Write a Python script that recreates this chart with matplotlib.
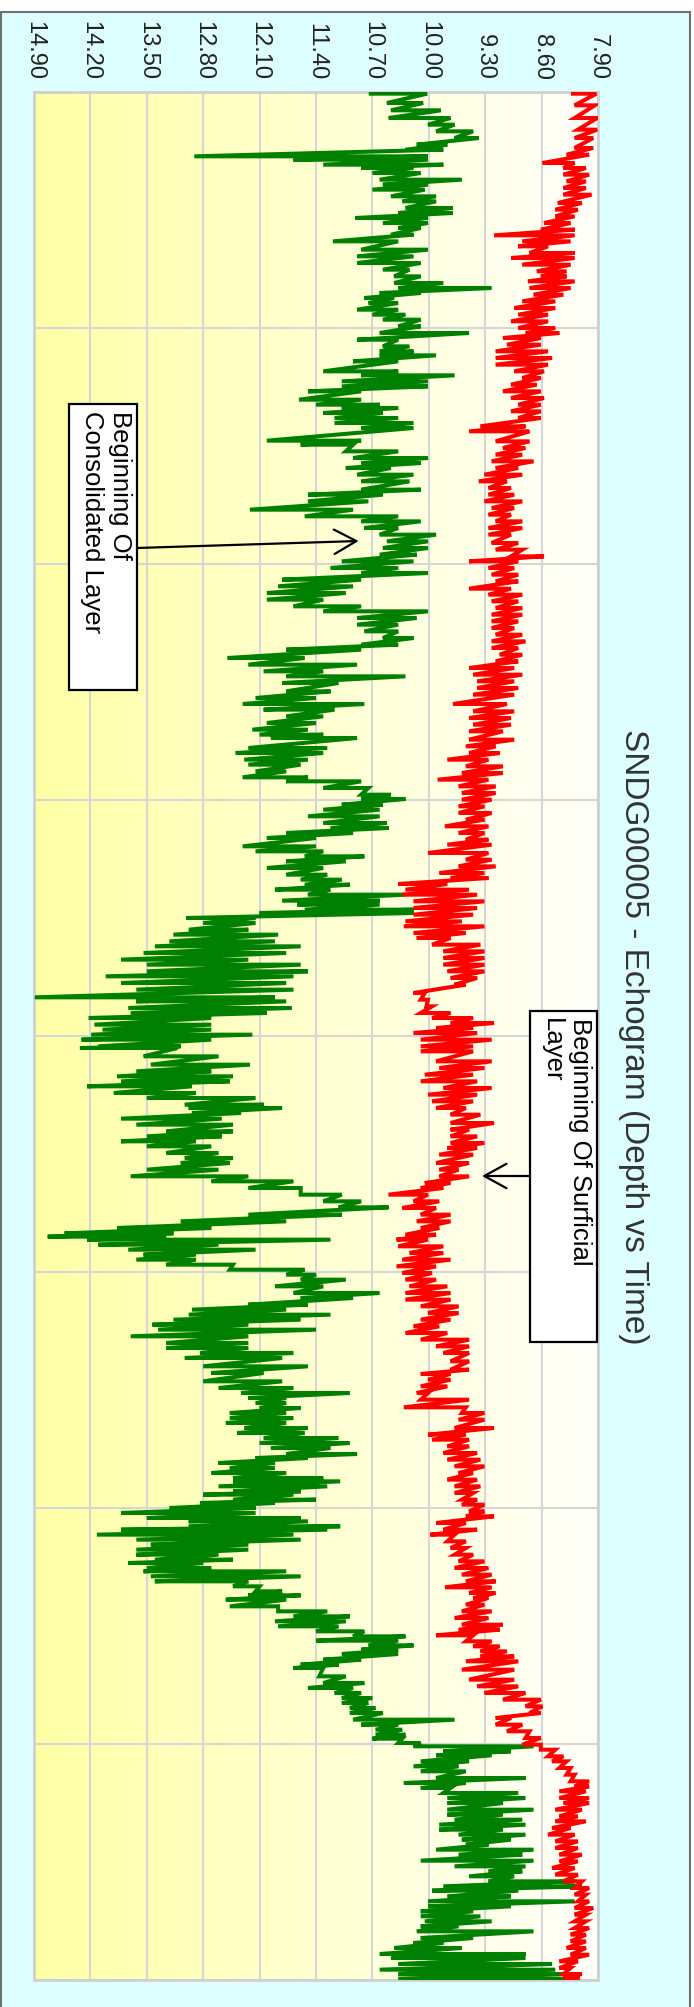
import numpy as np
import matplotlib
matplotlib.use("Agg")
import matplotlib.pyplot as plt
from matplotlib.patches import Rectangle
from matplotlib.colors import LinearSegmentedColormap

plt.rcParams['font.family'] = ['Liberation Sans', 'DejaVu Sans']

TITLE = "SNDG00005 - Echogram (Depth vs Time)"
depth_ticks = [14.90, 14.20, 13.50, 12.80, 12.10, 11.40, 10.70, 10.00, 9.30, 8.60, 7.90]
ping_max = 5664
ping_grid = 708

# Consolidated layer (green): ping, deepest and shallowest depth reached in each ping window
green_ping = [5, 33, 55,
    78, 98, 118, 138, 158, 173, 193, 203, 218, 228, 243, 263, 278, 293, 313, 328, 348, 363, 378, 393, 408, 428,
    448, 473, 493, 513, 533, 553, 573, 588, 603, 618, 633, 653, 668, 683, 703, 723, 743, 763, 778, 790, 808,
    838, 850, 868, 883, 898, 923, 938, 948, 963, 978, 993,
    1008, 1046, 1058, 1078, 1098, 1113, 1128, 1148, 1168, 1193, 1208, 1228, 1253, 1273, 1288, 1308, 1328,
    1348, 1368, 1388, 1408, 1428, 1443, 1463, 1483, 1503, 1523, 1543, 1558, 1578, 1598, 1618, 1638, 1658,
    1673, 1698, 1718, 1738, 1753, 1773, 1798, 1818, 1836, 1853, 1873, 1893, 1913, 1928,
    1938, 1968, 1983, 2003, 2018, 2038, 2056, 2068, 2088, 2108, 2121, 2138, 2153, 2173, 2193, 2208, 2223,
    2238, 2263, 2278, 2293, 2308, 2328, 2348, 2363, 2378, 2393, 2408, 2426, 2438, 2453, 2463, 2478, 2493,
    2513, 2528, 2548, 2563, 2583, 2603, 2618, 2638, 2653, 2673, 2693, 2716, 2728, 2748, 2763, 2778, 2798,
    2813, 2828, 2843, 2863,
    2868, 2893, 2918, 2938, 2953, 2968, 2983, 3003, 3018, 3038, 3048, 3063, 3080, 3098, 3118, 3133, 3148,
    3163, 3183, 3198, 3213, 3233, 3253, 3268, 3288, 3308, 3328, 3346, 3368, 3388, 3408, 3424, 3434, 3443,
    3458, 3473, 3488, 3503, 3518, 3533, 3548, 3563, 3583, 3603, 3618, 3638, 3653, 3668, 3683, 3698, 3713,
    3733, 3753, 3768, 3783,
    3798, 3823, 3843, 3868, 3888, 3903, 3918, 3933, 3948, 3963, 3978, 3993, 4008, 4023, 4038, 4053, 4068,
    4086, 4098, 4113, 4128, 4143, 4158, 4168, 4183, 4198, 4208, 4223, 4233, 4248, 4263, 4278, 4288, 4303,
    4313, 4328, 4343, 4358, 4373, 4388, 4403, 4413, 4428, 4438, 4453, 4468, 4483, 4498, 4510, 4523, 4543,
    4558, 4573, 4588, 4603, 4618, 4633, 4646, 4660, 4673, 4686, 4703, 4718,
    4728, 4753, 4773, 4788, 4803, 4818, 4833, 4848, 4863, 4883, 4898, 4913, 4928, 4940, 4953, 4963, 4978,
    4990, 5008, 5023, 5038, 5058, 5073, 5088, 5103, 5118, 5133, 5153, 5168, 5183, 5198, 5213, 5228, 5243,
    5258, 5273, 5288, 5306, 5323, 5338, 5353, 5368, 5383, 5396, 5413, 5428, 5443, 5458, 5473, 5488, 5503,
    5518, 5538, 5553, 5568, 5586, 5598, 5616, 5633, 5646, 5660]
green_deep = [10.72, 10.52, 10.47,
    10.50, 10.01, 9.91, 9.68, 10.15, 10.29, 12.91, 11.68, 11.31, 10.84, 10.70, 10.61, 10.57, 10.70, 10.47, 10.33, 10.29, 10.38, 10.91, 10.57, 10.38, 10.47,
    11.19, 10.84, 10.89, 10.89, 10.57, 10.43, 10.43, 10.38, 10.61, 10.80, 10.75, 10.89, 10.70, 10.57, 10.38, 10.61, 10.89, 10.57, 10.61, 10.61, 10.94,
    11.31, 10.84, 11.08, 11.08, 11.50, 11.61, 11.40, 11.08, 11.31, 11.17, 11.17,
    10.84, 12.01, 11.59, 11.03, 10.94, 10.84, 11.03, 10.89, 10.84, 10.84, 11.50, 11.50, 12.22, 11.54, 10.84, 10.80, 10.61,
    10.52, 10.57, 10.61, 11.08, 11.22, 10.84, 11.82, 11.87, 12.01, 12.01, 11.68, 11.31, 10.89, 10.89, 10.80, 10.57, 10.84,
    11.77, 12.50, 12.24, 12.05, 11.77, 11.82, 11.77, 12.15, 12.31, 12.05, 11.77, 12.01, 12.19, 12.10,
    11.96, 12.24, 12.40, 12.29, 12.24, 12.15, 12.31, 11.77, 11.31, 10.84, 10.84, 11.08, 11.31, 11.50, 11.31, 11.22, 11.77,
    12.01, 12.31, 12.15, 11.54, 11.77, 12.01, 11.77, 11.59, 11.54, 11.91, 11.50, 11.82, 11.63, 11.54, 12.10, 13.01, 12.80,
    12.98, 13.17, 13.22, 13.40, 13.54, 13.82, 13.50, 13.50, 14.01, 13.82, 13.63, 14.89, 13.63, 13.73, 13.70, 14.22, 14.15,
    14.05, 14.19, 14.31, 14.10,
    14.33, 13.54, 13.45, 13.63, 13.87, 13.82, 14.24, 13.91, 13.50, 13.03, 12.98, 12.94, 13.82, 13.63, 13.26, 13.50, 13.82,
    13.50, 13.26, 13.03, 13.08, 13.50, 13.70, 12.70, 12.24, 11.59, 11.31, 11.12, 12.24, 13.08, 13.87, 14.52, 14.73, 14.24,
    14.10, 13.73, 13.54, 13.63, 13.26, 12.47, 11.77, 11.59, 11.91, 11.68, 11.59, 12.24, 12.94, 12.98, 13.17, 13.43, 13.36,
    13.70, 13.26, 13.26, 12.84,
    13.03, 12.80, 12.70, 12.80, 12.61, 12.33, 12.24, 12.15, 12.10, 12.47, 12.47, 12.52, 12.29, 12.38, 12.05, 12.10, 11.96,
    11.77, 12.15, 12.61, 12.47, 12.70, 12.43, 12.43, 12.61, 12.43, 12.80, 12.43, 12.84, 13.22, 13.82, 13.50, 12.98, 12.98,
    13.82, 14.12, 13.63, 13.45, 13.63, 13.63, 13.40, 13.73, 13.50, 13.54, 13.45, 13.40, 12.43, 12.15, 12.24, 12.52, 12.47,
    11.87, 11.68, 11.91, 11.87, 11.40, 10.94, 11.40, 10.75, 10.84, 11.08, 11.31, 11.59,
    11.68, 11.36, 11.31, 11.50, 11.17, 11.08, 11.08, 10.98, 10.98, 10.94, 10.84, 10.66, 10.66, 10.70, 10.38, 10.19, 9.82,
    9.91, 10.10, 10.19, 10.10, 9.91, 10.31, 10.10, 9.82, 9.77, 9.77, 9.77, 9.77, 9.68, 9.87, 9.87, 9.63, 9.59,
    9.54, 9.91, 9.63, 10.10, 9.68, 9.26, 9.50, 9.26, 9.82, 9.96, 9.77, 10.01, 10.01, 10.10, 10.10, 10.05, 10.10,
    10.15, 10.10, 10.19, 10.43, 10.61, 10.47, 10.38, 10.61, 10.38, 10.38]
green_shallow = [10.02, 10.07, 9.85,
    9.73, 9.68, 9.45, 9.38, 9.77, 9.82, 10.01, 10.01, 9.82, 10.19, 10.10, 9.59, 10.01, 10.05, 9.91, 9.91, 9.70, 9.70, 10.01, 10.01, 10.10, 10.19,
    10.38, 10.01, 10.19, 10.10, 10.24, 10.10, 9.82, 9.22, 10.10, 10.43, 10.38, 10.38, 10.29, 10.10, 10.10, 9.50, 10.38, 10.24, 10.19, 9.91, 10.38,
    10.38, 9.68, 10.01, 10.01, 10.84, 10.84, 10.61, 10.38, 10.57, 10.38, 10.19,
    10.19, 10.84, 10.94, 10.38, 10.01, 10.10, 10.47, 10.19, 10.24, 10.10, 10.57, 10.75, 10.94, 10.38, 10.10, 10.38, 9.91,
    10.01, 10.01, 10.15, 10.19, 10.38, 10.01, 10.84, 10.94, 11.03, 11.31, 10.84, 10.01, 10.15, 10.38, 10.38, 10.19, 10.38,
    10.84, 11.54, 10.89, 11.31, 10.29, 11.12, 11.22, 11.40, 10.80, 11.17, 11.31, 11.40, 11.50, 11.31,
    10.89, 11.26, 11.31, 11.50, 11.59, 11.77, 11.50, 10.84, 10.75, 10.47, 10.29, 10.57, 10.61, 10.61, 10.52, 10.50, 10.94,
    11.40, 11.40, 11.31, 10.80, 11.03, 11.31, 11.26, 11.08, 10.98, 11.22, 10.29, 10.61, 10.61, 10.19, 10.19, 12.15, 12.15,
    12.24, 11.87, 11.91, 11.59, 11.77, 12.24, 11.59, 11.50, 11.68, 11.77, 11.68, 11.91, 11.77, 11.70, 12.01, 12.70, 12.70,
    12.70, 12.19, 12.70, 13.08,
    13.12, 12.61, 12.22, 12.70, 12.43, 12.47, 12.94, 12.89, 12.15, 12.05, 11.82, 12.33, 12.57, 12.43, 12.43, 12.57, 12.89,
    12.70, 12.61, 12.43, 12.47, 12.61, 12.24, 11.68, 11.59, 11.08, 10.84, 10.50, 11.08, 11.77, 12.70, 13.17, 13.26, 11.22,
    12.61, 12.15, 12.89, 12.89, 12.43, 11.54, 11.40, 11.03, 11.31, 10.61, 10.94, 11.50, 11.77, 11.22, 11.59, 12.24, 11.40,
    12.24, 12.24, 12.24, 11.68,
    11.82, 11.50, 12.05, 11.82, 11.68, 10.98, 11.77, 11.77, 11.59, 11.77, 11.68, 11.77, 11.50, 11.54, 11.12, 10.98, 11.22,
    10.89, 11.50, 11.91, 11.91, 11.77, 11.31, 11.10, 11.26, 11.59, 11.68, 11.40, 11.91, 12.15, 12.15, 11.59, 11.50, 11.10,
    11.26, 11.68, 11.59, 12.24, 12.24, 12.61, 12.43, 12.80, 12.70, 11.77, 11.59, 12.24, 12.10, 11.82, 11.59, 11.77, 11.87,
    11.26, 10.98, 11.03, 11.12, 10.80, 10.29, 10.38, 10.19, 10.38, 10.38, 10.84, 11.12,
    11.31, 11.03, 10.80, 10.94, 10.84, 10.70, 10.75, 10.66, 10.57, 9.68, 10.38, 10.33, 10.29, 10.33, 10.10, 8.70, 8.98,
    9.22, 9.50, 9.63, 9.54, 8.80, 9.54, 9.73, 8.89, 8.80, 9.08, 8.70, 9.08, 8.84, 8.80, 9.08, 8.80, 8.98,
    9.26, 8.70, 8.84, 8.70, 8.80, 8.84, 8.94, 8.19, 8.10, 8.89, 8.98, 8.19, 8.98, 9.45, 9.36, 9.22, 9.63,
    8.70, 9.45, 9.82, 9.59, 8.80, 8.80, 8.47, 8.43, 8.33, 8.29]

# Surficial layer (red)
red_ping = [5, 40,
    78, 113, 138, 168, 188, 213, 228, 248, 268, 288, 308, 333, 353, 373, 393, 413, 430, 448, 463, 483, 498,
    518, 538, 553, 568, 588, 608, 628, 648, 668, 688, 708, 723, 738, 758, 778, 798, 818, 838, 858, 878, 898,
    918, 938, 958, 978, 1003,
    1018, 1048, 1068, 1088, 1108, 1128, 1148, 1168, 1188, 1208, 1228, 1248, 1268, 1288, 1308, 1328, 1353,
    1373, 1393, 1408, 1428, 1448, 1468, 1490, 1508, 1528, 1548, 1568, 1588, 1608, 1628, 1648, 1668, 1688,
    1708, 1728, 1748, 1768, 1788, 1808, 1836, 1858, 1878, 1898, 1918,
    1943, 1963, 1983, 2003, 2023, 2043, 2063, 2083, 2103, 2123, 2143, 2163, 2183, 2203, 2223, 2243, 2258,
    2283, 2303, 2323, 2343, 2358, 2376, 2393, 2408, 2428, 2448, 2468, 2488, 2503, 2523, 2538, 2558, 2578,
    2598, 2618, 2638, 2658, 2678, 2703, 2723, 2743, 2763, 2778, 2793, 2808, 2823, 2843, 2863,
    2878, 2908, 2928, 2948, 2968, 2988, 3008, 3028, 3048, 3068, 3093, 3113, 3133, 3153, 3168, 3188, 3213,
    3233, 3253, 3273, 3288, 3308, 3328, 3348, 3368, 3388, 3408, 3428, 3443, 3463, 3483, 3503, 3523, 3543,
    3563, 3583, 3603, 3623, 3643, 3663, 3683, 3703, 3723, 3743, 3763, 3783,
    3808, 3833, 3846, 3863, 3883, 3903, 3923, 3946, 3963, 3983, 4008, 4028, 4043, 4063, 4083, 4103, 4123,
    4143, 4163, 4183, 4203, 4223, 4238, 4258, 4273, 4293, 4313, 4328, 4348, 4368, 4388, 4408, 4428, 4448,
    4468, 4486, 4503, 4518, 4538, 4558, 4578, 4598, 4613, 4630, 4648, 4663, 4678, 4693, 4708,
    4733, 4763, 4783, 4803, 4823, 4843, 4863, 4878, 4898, 4918, 4938, 4958, 4973, 4993, 5008, 5028, 5048,
    5068, 5083, 5098, 5118, 5133, 5153, 5173, 5188, 5208, 5228, 5248, 5268, 5288, 5308, 5328, 5348, 5368,
    5388, 5408, 5428, 5448, 5468, 5488, 5508, 5528, 5548, 5568, 5588, 5608, 5628, 5646, 5658]
red_deep = [8.21, 8.19,
    8.19, 8.15, 8.19, 8.19, 8.29, 8.59, 8.33, 8.33, 8.29, 8.33, 8.33, 8.40, 8.43, 8.43, 8.57, 8.61, 9.19, 8.84, 8.89, 8.75, 8.98,
    8.84, 8.66, 8.61, 8.77, 8.75, 8.70, 8.84, 8.94, 8.89, 8.98, 8.89, 8.80, 9.08, 9.03, 9.17, 9.17, 9.17, 8.94, 8.84, 8.98, 9.08,
    8.98, 8.89, 8.98, 8.89, 9.36,
    9.50, 9.17, 9.08, 9.17, 9.22, 9.17, 9.31, 9.38, 9.26, 9.26, 9.31, 9.22, 9.26, 9.17, 9.26, 9.26, 9.22,
    9.17, 8.98, 9.50, 9.26, 9.22, 9.17, 9.50, 9.26, 9.22, 9.17, 9.22, 9.22, 9.22, 9.17, 9.22, 9.22, 9.12,
    9.17, 9.50, 9.45, 9.40, 9.40, 9.45, 9.70, 9.45, 9.50, 9.45, 9.50,
    9.50, 9.54, 9.50, 9.77, 9.54, 9.59, 9.89, 9.63, 9.59, 9.59, 9.63, 9.63, 9.54, 9.80, 9.63, 9.54, 9.77,
    10.01, 9.54, 9.63, 9.87, 9.73, 10.38, 10.29, 10.33, 10.19, 10.19, 10.19, 10.29, 10.31, 10.19, 10.15, 9.96, 9.82,
    9.82, 9.82, 9.77, 9.73, 9.68, 10.19, 10.10, 10.03, 10.10, 9.96, 9.73, 9.91, 10.19, 10.10, 10.10,
    10.10, 9.91, 9.87, 10.05, 10.10, 9.82, 10.01, 9.96, 9.91, 9.73, 9.73, 9.73, 9.73, 9.73, 9.77, 9.87, 9.91,
    9.87, 9.87, 10.05, 10.10, 10.50, 10.19, 10.33, 10.10, 10.15, 10.10, 10.29, 10.40, 10.38, 10.24, 10.33, 10.40, 10.33,
    10.29, 10.24, 10.29, 10.29, 10.10, 10.01, 10.10, 10.19, 10.29, 10.10, 9.91, 9.82,
    9.73, 9.73, 10.10, 10.01, 10.10, 10.15, 10.10, 10.31, 9.59, 9.63, 9.68, 10.01, 9.96, 9.77, 9.82, 9.77, 9.68,
    9.63, 9.77, 9.68, 9.68, 9.59, 9.59, 9.50, 9.54, 9.91, 9.82, 9.98, 9.77, 9.73, 9.68, 9.63, 9.68, 9.59,
    9.54, 9.80, 9.50, 9.45, 9.54, 9.59, 9.68, 9.59, 9.63, 9.91, 9.54, 9.45, 9.36, 9.36, 9.54,
    9.59, 9.50, 9.40, 9.31, 9.08, 8.80, 8.75, 9.17, 9.17, 9.03, 8.80, 8.84, 8.61, 8.52, 8.47, 8.38, 8.29,
    8.24, 8.19, 8.38, 8.38, 8.33, 8.43, 8.38, 8.43, 8.47, 8.52, 8.43, 8.43, 8.38, 8.38, 8.47, 8.43, 8.33,
    8.19, 8.19, 8.15, 8.19, 8.19, 8.19, 8.19, 8.24, 8.24, 8.29, 8.24, 8.38, 8.38, 8.33, 8.33]
red_shallow = [7.92, 7.94,
    7.91, 7.91, 7.96, 7.96, 8.01, 8.19, 8.05, 8.01, 8.05, 8.05, 7.98, 8.10, 8.15, 8.19, 8.24, 8.19, 8.19, 8.24, 8.52, 8.19, 8.19,
    8.24, 8.29, 8.29, 8.19, 8.24, 8.33, 8.43, 8.43, 8.52, 8.52, 8.43, 8.38, 8.61, 8.61, 8.52, 8.47, 8.52, 8.57, 8.61, 8.66, 8.61,
    8.57, 8.61, 8.61, 8.61, 8.80,
    8.75, 8.75, 8.80, 8.84, 8.70, 8.89, 8.84, 9.03, 8.98, 8.94, 8.84, 8.94, 8.98, 8.84, 8.84, 8.98, 8.89,
    8.84, 8.57, 8.89, 8.94, 8.89, 8.89, 8.98, 8.84, 8.89, 8.84, 8.84, 8.89, 8.94, 8.84, 8.80, 8.89, 8.84,
    8.89, 8.94, 8.84, 8.94, 8.89, 8.94, 9.03, 8.94, 8.98, 8.98, 9.08,
    8.94, 9.17, 9.12, 9.26, 9.08, 9.08, 9.26, 9.17, 9.17, 9.22, 9.31, 9.22, 9.31, 9.26, 9.31, 9.26, 9.22,
    9.26, 9.22, 9.17, 9.31, 9.26, 9.77, 9.50, 9.40, 9.31, 9.40, 9.45, 9.59, 9.31, 9.54, 9.73, 9.36, 9.31,
    9.31, 9.31, 9.31, 9.40, 9.54, 10.05, 10.01, 9.96, 9.73, 9.45, 9.19, 9.45, 9.40, 9.22, 9.45,
    9.45, 9.22, 9.31, 9.45, 9.40, 9.22, 9.40, 9.45, 9.54, 9.36, 9.19, 9.50, 9.40, 9.31, 9.40, 9.45, 9.50,
    9.63, 9.50, 9.73, 9.82, 10.01, 9.87, 9.91, 9.73, 9.73, 9.87, 9.91, 10.01, 9.82, 9.82, 9.73, 9.91, 9.96,
    9.91, 9.77, 9.73, 9.73, 9.63, 9.63, 9.73, 9.87, 9.77, 9.50, 9.50, 9.50,
    9.50, 9.50, 9.73, 9.73, 9.77, 10.01, 9.50, 9.54, 9.31, 9.31, 9.19, 9.54, 9.50, 9.50, 9.40, 9.36, 9.31,
    9.45, 9.40, 9.36, 9.45, 9.40, 9.31, 9.31, 9.19, 9.54, 9.40, 9.68, 9.54, 9.54, 9.45, 9.31, 9.26, 9.22,
    9.17, 9.22, 9.17, 9.26, 9.31, 9.22, 9.26, 9.08, 9.12, 9.45, 9.22, 9.12, 9.03, 8.94, 8.89,
    8.94, 8.94, 8.89, 8.80, 8.61, 8.59, 8.61, 8.98, 8.84, 8.75, 8.61, 8.61, 8.43, 8.33, 8.29, 8.24, 8.19,
    8.01, 8.01, 8.05, 8.01, 8.01, 8.10, 8.15, 8.05, 8.24, 8.19, 8.15, 8.15, 8.10, 8.15, 8.19, 8.15, 8.10,
    8.01, 8.05, 8.01, 7.96, 8.05, 8.05, 8.01, 8.05, 8.05, 8.05, 8.01, 8.15, 8.24, 8.10, 8.15]

W, H = 694, 2007
plot_left, plot_right, plot_top, plot_bottom = 34, 598, 92, 1980


def trace(ping, deep, shallow):
    """Sweep from the deep to the shallow extreme inside each ping window."""
    xs, ys = [], []
    for p, d, s in zip(ping, deep, shallow):
        xs.extend((d, s))
        ys.extend((p, p))
    return xs, ys


fig = plt.figure(figsize=(W / 100, H / 100), dpi=100)
fig.patch.set_facecolor('white')

# cyan panel with a grey frame
fig.add_artist(Rectangle((1 / W, -0.02), 689 / W, (H - 12) / H + 0.02, transform=fig.transFigure,
                         facecolor='#DDFFFF', edgecolor='#707070', linewidth=1.5, zorder=0))

ax = fig.add_axes([plot_left / W, (H - plot_bottom) / H,
                   (plot_right - plot_left) / W, (plot_bottom - plot_top) / H])
ax.set_facecolor('white')

# yellow-to-white background gradient across the depth range
grad_cmap = LinearSegmentedColormap.from_list('bg', ['#FFFFA6', '#FFFFFA'])
ax.imshow(np.linspace(0, 1, 256)[None, :], cmap=grad_cmap, aspect='auto',
          extent=[depth_ticks[0], depth_ticks[-1], ping_max, 0], zorder=0)

gx, gy = trace(green_ping, green_deep, green_shallow)
rx, ry = trace(red_ping, red_deep, red_shallow)
ax.plot(gx, gy, color='#008000', lw=2.9, solid_joinstyle='miter', zorder=3)
ax.plot(rx, ry, color='#FF0000', lw=2.9, solid_joinstyle='miter', zorder=3)

ax.set_xlim(depth_ticks[0], depth_ticks[-1])
ax.set_ylim(ping_max, 0)

ax.xaxis.tick_top()
ax.set_xticks(depth_ticks)
ax.set_xticklabels([f"{v:.2f}" for v in depth_ticks])
ax.tick_params(axis='x', length=0, pad=8.5, labelrotation=-90, labelsize=17, labelcolor='#222222')
ax.set_yticks(np.arange(0, ping_max + 1, ping_grid))
ax.tick_params(axis='y', length=0, labelleft=False)
ax.grid(True, color='#D6D6D6', lw=1.5, zorder=1)
for s in ax.spines.values():
    s.set_color('#D0D0D0')
    s.set_linewidth(2)

# annotation boxes
def note_box(x0, x1, y0, y1, text):
    ax.add_patch(Rectangle((x1, y0), x0 - x1, y1 - y0, facecolor='white', edgecolor='black',
                           lw=1.6, zorder=5, clip_on=False))
    ax.annotate(text, xy=(x1, y0), xytext=(-5, -7), textcoords='offset pixels',
                rotation=-90, ha='right', va='top', multialignment='left',
                fontsize=18.5, linespacing=1.2, color='black', zorder=6, annotation_clip=False)


note_box(14.466, 13.622, 936, 1794, "Beginning Of\nConsolidated Layer")
ax.annotate('', xy=(10.87, 1347), xytext=(13.622, 1368),
            arrowprops=dict(arrowstyle='->,head_length=1.0,head_width=0.55', lw=1.6, color='black',
                            mutation_scale=16, shrinkA=0, shrinkB=0), zorder=6)

note_box(8.744, 7.912, 2757, 3750, "Beginning Of Surficial\nLayer")
ax.annotate('', xy=(9.34, 3252), xytext=(8.744, 3252),
            arrowprops=dict(arrowstyle='->,head_length=1.0,head_width=0.55', lw=1.6, color='black',
                            mutation_scale=16, shrinkA=0, shrinkB=0), zorder=6)

fig.text(634 / W, 1 - 1037 / H, TITLE, rotation=-90, ha='center', va='center',
         fontsize=24, color='#333333')

fig.savefig('out.png', dpi=100, facecolor=fig.get_facecolor())
